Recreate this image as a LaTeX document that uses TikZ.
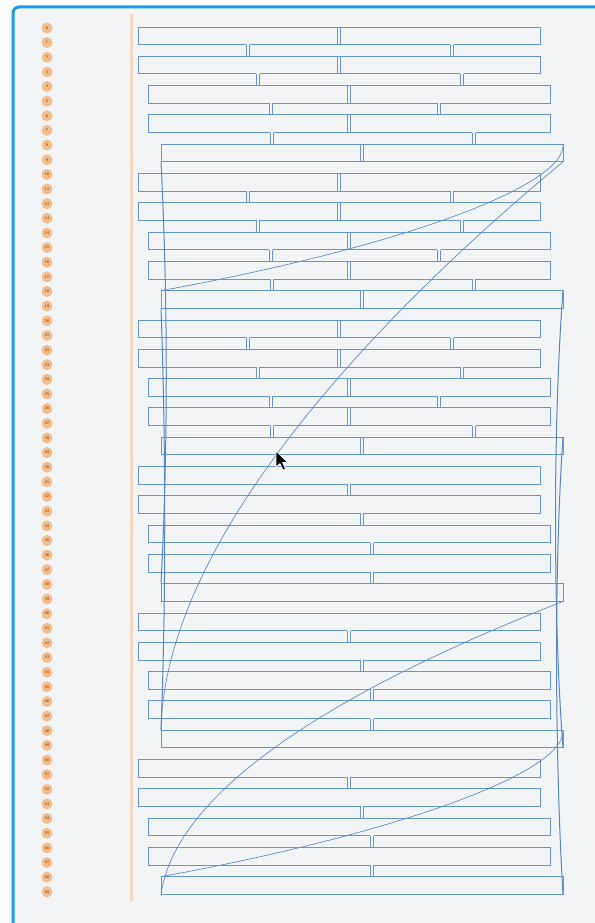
\documentclass[tikz,border=0pt]{standalone}
\definecolor{bgc}{RGB}{243,244,246}
\definecolor{frm}{RGB}{28,155,240}
\definecolor{lb}{RGB}{104,150,212}
\definecolor{cb}{RGB}{84,135,205}
\definecolor{pch}{RGB}{242,190,142}
\definecolor{pchd}{RGB}{140,72,25}
\definecolor{barc}{RGB}{246,216,192}
\newcommand\gapat[3]{%
  \fill[bgc] ({#1-1.6},{#2-0.7}) rectangle ({#1+1.6},{#2+0.7});
  \draw[ln] ({#1-1.6},#2) -- ({#1-1.6},#3) ({#1+1.6},#2) -- ({#1+1.6},#3);}
\begin{document}
\begin{tikzpicture}[x=1pt,y=-1pt,
  ln/.style={draw=lb,line width=0.9pt},
  dbl/.style={draw=lb,line width=0.7pt},
  crv/.style={draw=cb,line width=0.65pt},
  longl/.style={draw=cb,line width=1pt},
  num/.style={circle,fill=pch,minimum size=11pt,inner sep=0pt,
    font=\sffamily\bfseries\fontsize{3.8}{3.8}\selectfont,text=pchd}]
\useasboundingbox (0,0) rectangle (594,923);
\fill[white] (0,0) rectangle (594,923);
\fill[bgc,rounded corners=6pt] (13,7) rectangle (620,950);
\draw[frm,line width=3pt,rounded corners=6pt] (13,950) -- (13,7) -- (620,7);
\fill[barc] (129.5,14) rectangle (132.5,901);
\foreach \i in {0,...,59} \node[num] (n\i) at (47,{28+14.64*\i}) {\i};
% groups
\foreach \s in {0,...,5}{
  \foreach \k/\L/\R/\P in {0/138/540/339,1/138/540/339,2/148/550/349,3/148/550/349,4/161/563/362}{
    \pgfmathtruncatemacro\g{5*\s+\k}
    \pgfmathsetmacro\t{27+29.3*\g}
    \pgfmathsetmacro\b{44.65+29.3*\g}
    \coordinate (tl\g) at (\L,\t);
    \coordinate (tr\g) at (\R,\t);
    \coordinate (bl\g) at (\L,\b);
    \coordinate (br\g) at (\R,\b);
    \draw[ln] (tr\g) -- (tl\g) -- (bl\g) -- (br\g) -- cycle;
    \ifnum\s<3
      \draw[dbl] ({\P-1.2},\t) -- ({\P-1.2},\b) ({\P+1.2},\t) -- ({\P+1.2},\b);
    \fi
  }
}
% gaps
\foreach \s in {0,1,2}{
  \foreach \k/\xa/\xb in {0/248/452,1/258/462,2/271/439,3/272/474}{
    \pgfmathtruncatemacro\g{5*\s+\k}
    \pgfmathsetmacro\b{44.65+29.3*\g}
    \pgfmathsetmacro\tn{27+29.3*(\g+1)}
    \gapat{\xa}{\b}{\tn}
    \gapat{\xb}{\b}{\tn}
  }
}
\foreach \s in {3,4,5}{
  \foreach \k/\xa in {0/349,1/362,2/372,3/372}{
    \pgfmathtruncatemacro\g{5*\s+\k}
    \pgfmathsetmacro\b{44.65+29.3*\g}
    \pgfmathsetmacro\tn{27+29.3*(\g+1)}
    \gapat{\xa}{\b}{\tn}
  }
}
% long connectors
\draw[longl] (bl4) .. controls (168,300) and (168,450) .. (tl19);
\draw[longl] (bl9) .. controls (166,450) and (166,600) .. (tl24);
\draw[longl] (tr9) .. controls (553,420) and (553,620) .. (br24);
\draw[longl] (tr14) .. controls (553,580) and (556,780) .. (br29);
% curves
\draw[crv] (tr4) .. controls (566,186) and (400,247) .. (tl9);
\draw[crv] (br4) .. controls (420,280) and (165,520) .. (tl24);
\draw[crv] (tr24) .. controls (566,772) and (400,833) .. (tl29);
\draw[crv] (br19) .. controls (440,650) and (180,760) .. (bl29);
% cursor
\draw[fill=black,draw=white,line width=0.6pt,line join=round]
  (276,451) -- (276,467) -- (280,463.5) -- (283,470) -- (285.5,469) -- (282.5,462.5) -- (287.5,462.5) -- cycle;
\end{tikzpicture}
\end{document}
